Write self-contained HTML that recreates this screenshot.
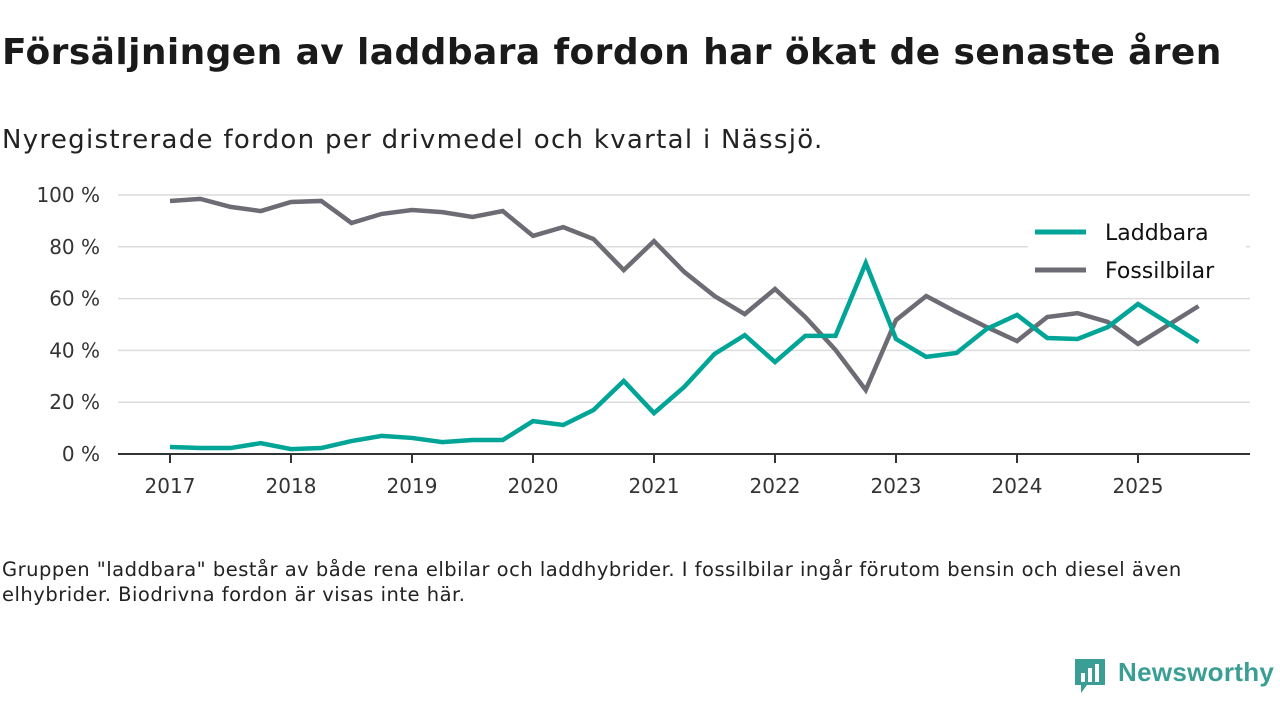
<!DOCTYPE html>
<html><head><meta charset="utf-8">
<style>
body{margin:0;width:1280px;height:720px;background:#fff;font-family:"DejaVu Sans","Liberation Sans",sans-serif;overflow:hidden;position:relative;color:#111}
.t{position:absolute;white-space:nowrap}
</style></head><body>
<div class="t" style="left:2px;top:32px;font-size:36px;font-weight:bold;color:#1a1a1a;letter-spacing:0.4px">Försäljningen av laddbara fordon har ökat de senaste åren</div>
<div class="t" style="left:2px;top:125px;font-size:26px;color:#222;letter-spacing:1.3px">Nyregistrerade fordon per drivmedel och kvartal i Nässjö.</div>
<svg id="chart" width="1280" height="540" style="position:absolute;left:0;top:0"></svg>
<div class="t" style="left:2px;top:557px;font-size:19.5px;line-height:25px;color:#222;white-space:normal;width:1250px;letter-spacing:0.5px">Gruppen "laddbara" består av både rena elbilar och laddhybrider. I fossilbilar ingår förutom bensin och diesel även elhybrider. Biodrivna fordon är visas inte här.</div>
<div style="position:absolute;left:1073px;top:657px;width:210px;height:40px">
<svg width="36" height="38" style="position:absolute;left:0;top:0"><path d="M2 2h30v26H14l-6 8v-8H2z" fill="#3a9e94"/><rect x="8" y="16" width="4" height="9" fill="#fff"/><rect x="15" y="11" width="4" height="14" fill="#fff"/><rect x="22" y="7" width="4" height="18" fill="#fff"/></svg>
<div class="t" style="left:45px;top:0px;font-size:26px;font-weight:bold;color:#3a9e94;font-family:'Liberation Sans',sans-serif;letter-spacing:0.3px">Newsworthy</div>
</div>
<script>
const years=[2017,2018,2019,2020,2021,2022,2023,2024,2025];
const yTicks=[0,20,40,60,80,100];
const startYear=2017;
const laddbara=[2.7,2.3,2.3,4.2,1.9,2.3,5,7,6.2,4.6,5.4,5.4,12.7,11.2,17,28.2,15.8,25.9,38.6,45.9,35.5,45.6,45.6,73.7,44.4,37.5,39,48.3,53.7,44.8,44.4,49,57.9,50.6,43.2];
const fossil=[97.7,98.5,95.4,93.8,97.3,97.7,89.2,92.7,94.2,93.4,91.5,93.8,84.2,87.6,83,71,82.2,70.3,61,54,63.7,52.9,40.2,24.7,51.7,61,54.8,49,43.6,52.9,54.4,51,42.5,49.8,57.1];
const svg=document.getElementById('chart');
const NS='http://www.w3.org/2000/svg';
const FF='DejaVu Sans, Liberation Sans, sans-serif';
const x=v=>170+(v-2017)*121;
const y=v=>454-v*2.59;
function mk(t,a){const e=document.createElementNS(NS,t);for(const k in a)e.setAttribute(k,a[k]);svg.appendChild(e);return e;}
yTicks.forEach(v=>{
  if(v>0){const g=mk('line',{x1:118,x2:1250,y1:y(v),y2:y(v),stroke:'#dcdcdc','stroke-width':1.5});
  
  }
  const t=mk('text',{x:100,y:y(v)+7,'text-anchor':'end','font-size':20,fill:'#333','font-family':FF});
  t.textContent=v+' %';
  
  
});
const ax=mk('line',{x1:118,x2:1250,y1:454,y2:454,stroke:'#333','stroke-width':2});


years.forEach(v=>{
  const tk=mk('line',{x1:x(v),x2:x(v),y1:454,y2:463,stroke:'#333','stroke-width':2});
  
  
  const t=mk('text',{x:x(v),y:493,'text-anchor':'middle','font-size':20,fill:'#333','font-family':FF});
  t.textContent=v;
  
  
});
function series(d,c,name){
  const pts=d.map((v,i)=>x(startYear+i*0.25)+','+y(v)).join(' ');
  const p=mk('polyline',{points:pts,fill:'none',stroke:c,'stroke-width':4.5,'stroke-linejoin':'miter'});
  
  
}
series(fossil,'#6d6b73','fossilbilar-line');
series(laddbara,'#00a597','laddbara-line');
const bg=mk('rect',{x:1028,y:214,width:218,height:76,fill:'#fff'});


[['Laddbara','#00a597',232],['Fossilbilar','#6d6b73',270]].forEach(([n,c,yy])=>{
  const l=mk('line',{x1:1035,x2:1086,y1:yy,y2:yy,stroke:c,'stroke-width':5});
  
  
  const t=mk('text',{x:1105,y:yy+8,'font-size':22,fill:'#111','font-family':FF});
  t.textContent=n;
  
  
});
</script>
</body></html>
